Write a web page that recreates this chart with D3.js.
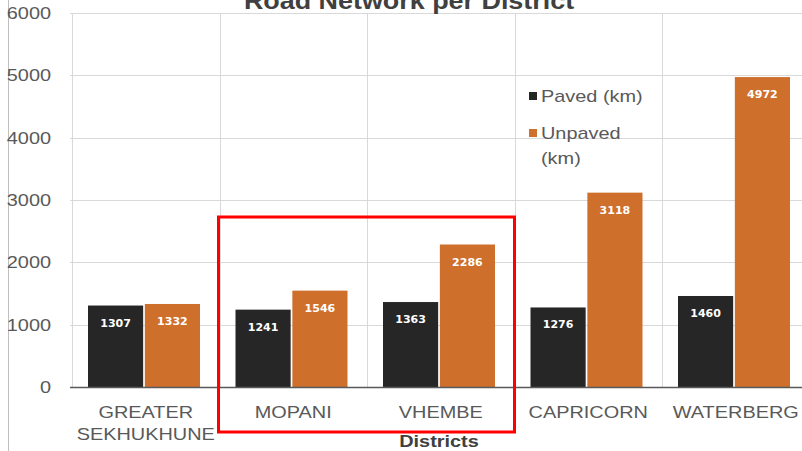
<!DOCTYPE html>
<html>
<head>
<meta charset="utf-8">
<script src="https://cdn.jsdelivr.net/npm/d3@7"></script>
<style>
  body { margin: 0; background: #fff; }
  svg { display: block; font-family: "Liberation Sans", Arial, sans-serif; }
</style>
</head>
<body>
<div id="chart"></div>
<script>
const width = 802
const height = 451

// data
const districts = ["GREATER SEKHUKHUNE", "MOPANI", "VHEMBE", "CAPRICORN", "WATERBERG"]
const paved = [1307, 1241, 1363, 1276, 1460]
const unpaved = [1332, 1546, 2286, 3118, 4972]
const seriesNames = ["Paved (km)", "Unpaved (km)"]
const yTicks = [0, 1000, 2000, 3000, 4000, 5000, 6000]

const colors = ["#262626", "#cf6f2c"]
const textGray = "#595959"
// the reference picture is slightly stretched sideways
const stretch = 1.17

const svg = d3.select("#chart")
  .append("svg")
    .attr("width", width)
    .attr("height", height)

// places a text at (x, y) widened by the stretch factor
const wideText = (sel, x, y) => sel.attr("transform", `translate(${x},${y}) scale(${stretch},1)`)

// scales
const x = d3.scaleBand()
  .domain(districts)
  .range([72, 72 + 147.5 * 5])
  .paddingInner(0)

const x1 = d3.scaleBand()
  .domain([0, 1])
  .range([16, 16 + 112])
  .paddingInner(0.03)

const y = d3.scaleLinear()
  .domain([0, 6000])
  .range([387, 13])

// left border line
svg.append("line")
  .attr("x1", 8.5).attr("x2", 8.5)
  .attr("y1", 0).attr("y2", height)
  .attr("stroke", "#bfbfbf")

// horizontal grid
svg.append("g")
  .selectAll("line")
  .data(yTicks.slice(1))
  .join("line")
    .attr("x1", 70).attr("x2", width)
    .attr("y1", d => Math.round(y(d)) + 0.5)
    .attr("y2", d => Math.round(y(d)) + 0.5)
    .attr("stroke", "#d9d9d9")

// vertical grid at band edges
svg.append("g")
  .selectAll("line")
  .data(districts)
  .join("line")
    .attr("x1", d => Math.round(x(d)) + 0.5)
    .attr("x2", d => Math.round(x(d)) + 0.5)
    .attr("y1", y(6000)).attr("y2", y(0))
    .attr("stroke", "#d9d9d9")

// y tick labels
svg.append("g")
  .selectAll("text")
  .data(yTicks)
  .join("text")
    .each(function(d) { wideText(d3.select(this), 51, y(d)) })
    .attr("dy", "0.35em")
    .attr("text-anchor", "end")
    .attr("font-size", 17)
    .attr("fill", textGray)
    .text(d => d)

// bars
const groups = svg.append("g")
  .selectAll("g")
  .data(districts)
  .join("g")
    .attr("transform", d => `translate(${x(d)},0)`)

const barData = (d, i) => [paved[i], unpaved[i]].map((v, k) => ({ k, v }))

groups.selectAll("rect")
  .data(barData)
  .join("rect")
    .attr("x", d => x1(d.k))
    .attr("width", x1.bandwidth())
    .attr("y", d => y(d.v))
    .attr("height", d => y(0) - y(d.v))
    .attr("fill", d => colors[d.k])

groups.selectAll("text")
  .data(barData)
  .join("text")
    .attr("x", d => x1(d.k) + x1.bandwidth() / 2)
    .attr("y", d => y(d.v) + 21)
    .attr("text-anchor", "middle")
    .attr("font-size", 11)
    .attr("font-weight", "bold")
    .attr("font-family", "'DejaVu Sans', sans-serif")
    .attr("fill", "#ffffff")
    .text(d => d.v)

// x axis line
svg.append("line")
  .attr("x1", 70).attr("x2", width)
  .attr("y1", y(0) + 0.5).attr("y2", y(0) + 0.5)
  .attr("stroke", textGray)
  .attr("stroke-width", 1.5)

// x labels (wrapped on spaces)
svg.append("g")
  .selectAll("text")
  .data(districts)
  .join("text")
    .each(function(d) { wideText(d3.select(this), x(d) + x.bandwidth() / 2, 418) })
    .attr("text-anchor", "middle")
    .attr("font-size", 17)
    .attr("fill", textGray)
    .each(function(d) {
      d3.select(this).selectAll("tspan")
        .data(d.split(" "))
        .join("tspan")
          .attr("x", 0)
          .attr("dy", (w, i) => i === 0 ? 0 : 22)
          .text(w => w)
    })

// axis title
svg.append("text")
  .call(wideText, 439, 447)
  .attr("text-anchor", "middle")
  .attr("font-size", 17)
  .attr("font-weight", "bold")
  .attr("fill", "#404040")
  .text("Districts")

// chart title (partly cut off at top, as in the reference)
svg.append("text")
  .call(wideText, 409, 9)
  .attr("text-anchor", "middle")
  .attr("font-size", 23)
  .attr("font-weight", "bold")
  .attr("fill", "#404040")
  .text("Road Network per District")

// legend
const legend = svg.append("g")
  .attr("transform", "translate(529,0)")

const legendRows = [[seriesNames[0]], ["Unpaved", "(km)"]]
const legendY = [96, 133]

legendRows.forEach((lines, i) => {
  legend.append("rect")
    .attr("x", 0)
    .attr("y", legendY[i] - 4)
    .attr("width", 8)
    .attr("height", 8)
    .attr("fill", colors[i])
  lines.forEach((t, j) => {
    legend.append("text")
      .call(wideText, 12, legendY[i] + j * 25)
      .attr("dy", "0.35em")
      .attr("font-size", 17)
      .attr("fill", textGray)
      .text(t)
  })
})

// red highlight box around MOPANI and VHEMBE
svg.append("rect")
  .attr("x", x("MOPANI") - 1)
  .attr("y", 217)
  .attr("width", x("VHEMBE") + x.bandwidth() - x("MOPANI") + 1)
  .attr("height", 215)
  .attr("fill", "none")
  .attr("stroke", "#ff0000")
  .attr("stroke-width", 3)
</script>
</body>
</html>
